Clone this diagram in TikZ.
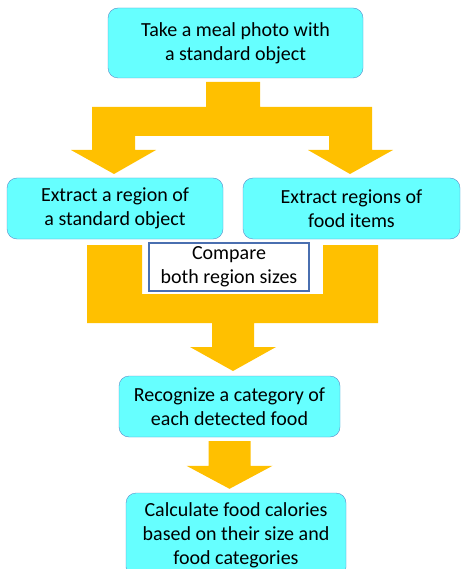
\documentclass[tikz,border=0pt]{standalone}
\usepackage{fontspec}
\setmainfont{Carlito}
\usetikzlibrary{calc}
\definecolor{boxcyan}{HTML}{66FFFF}
\definecolor{boxline}{HTML}{5B8BC9}
\definecolor{cmpline}{HTML}{4A6FB0}
\definecolor{arrorange}{HTML}{FFC000}
\tikzset{
  stepbox/.style={draw=boxline, fill=boxcyan, rounded corners=10pt, align=center,
    font=\fontsize{20}{24}\selectfont, inner sep=0pt},
  cmpbox/.style={draw=cmpline, fill=white, align=center, line width=1.2pt,
    font=\fontsize{20}{24}\selectfont, inner sep=0pt},
  arrfill/.style={fill=arrorange}
}
\newcommand{\blockdown}[2]{%
  \fill[arrfill] ($(#1.south)+(-21,4)$) -- ($(#1.south)+(21,4)$)
    -- ($(#1.south |- #2.north)+(21,-27)$) -- ($(#1.south |- #2.north)+(43,-27)$)
    -- ($(#1.south |- #2.north)+(0,-4)$)
    -- ($(#1.south |- #2.north)+(-43,-27)$) -- ($(#1.south |- #2.north)+(-21,-27)$) -- cycle;}
\begin{document}
\begin{tikzpicture}[x=1pt,y=-1pt]
\useasboundingbox (0,0) rectangle (460,569);
\fill[white] (0,0) rectangle (460,569);
% block arrows
\fill[arrfill] (206,82) -- (260,82) -- (260,107) -- (372,107) -- (372,150) -- (393,150)
  -- (350,174) -- (308,150) -- (329,150) -- (329,136) -- (135,136) -- (135,150)
  -- (156,150) -- (114,174) -- (71,150) -- (92,150) -- (92,107) -- (206,107) -- cycle;
\fill[arrfill] (87,245) -- (142,245) -- (142,294) -- (323,294) -- (323,245) -- (378,245)
  -- (378,323) -- (254,323) -- (254,347) -- (276,347) -- (233,371) -- (190,347)
  -- (212,347) -- (212,323) -- (87,323) -- cycle;
% boxes
\node[stepbox, minimum width=255pt, minimum height=70pt] (take) at (235.5,43)
  {Take a meal photo with\\a standard object};
\node[stepbox, minimum width=216pt, minimum height=61pt] (extA) at (115,208.5)
  {Extract a region of\\a standard object};
\node[stepbox, minimum width=217pt, minimum height=61pt] (extF) at (351.5,208.5)
  {Extract regions of\\food items};
\node[cmpbox, minimum width=160pt, minimum height=48pt] (cmp) at (229,267)
  {Compare\\both region sizes};
\node[stepbox, minimum width=221pt, minimum height=61pt] (recog) at (229.5,406.5)
  {Recognize a category of\\each detected food};
\node[stepbox, minimum width=220pt, minimum height=84pt] (calc) at (236,535)
  {Calculate food calories\\based on their size and\\food categories};
\blockdown{recog}{calc}
\end{tikzpicture}
\end{document}
